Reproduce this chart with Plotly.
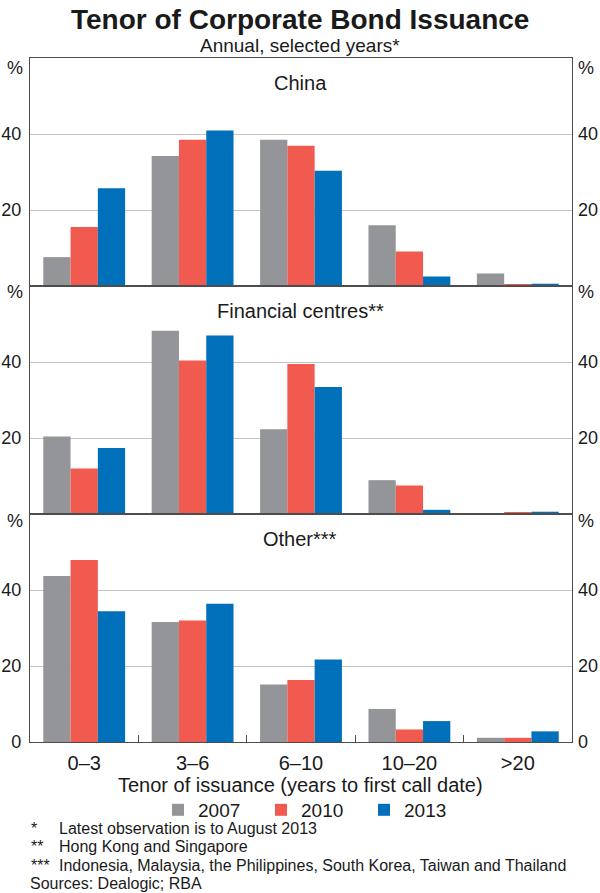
import plotly.graph_objects as go

# ---------------- data ----------------
categories = ["0–3", "3–6", "6–10", "10–20", ">20"]
years = ["2007", "2010", "2013"]
panel_titles = ["China", "Financial centres**", "Other***"]

china_2007 = [7.6, 34.2, 38.5, 16.0, 3.3]
china_2010 = [15.5, 38.5, 36.9, 9.1, 0.3]
china_2013 = [25.7, 40.9, 30.3, 2.5, 0.6]

fin_2007 = [20.4, 48.2, 22.3, 8.9, 0.0]
fin_2010 = [12.0, 40.4, 39.5, 7.5, 0.3]
fin_2013 = [17.4, 47.0, 33.4, 1.1, 0.6]

other_2007 = [43.7, 31.6, 15.1, 8.7, 1.1]
other_2010 = [47.9, 32.0, 16.3, 3.3, 1.1]
other_2013 = [34.4, 36.4, 21.7, 5.5, 2.8]

y_ticks_upper = [20, 40]
y_ticks_lower = [0, 20, 40]

title = "Tenor of Corporate Bond Issuance"
subtitle = "Annual, selected years*"
x_title = "Tenor of issuance (years to first call date)"
footnotes = [
    ("*", "Latest observation is to August 2013"),
    ("**", "Hong Kong and Singapore"),
    ("***", "Indonesia, Malaysia, the Philippines, South Korea, Taiwan and Thailand"),
]
sources = "Sources: Dealogic; RBA"

# ---------------- style ----------------
colors = ["#939598", "#F15A4F", "#0070BA"]
FONT = "Arial, 'Liberation Sans', sans-serif"
TXT = "#1a1a1a"
LINE = "#4d4d4d"
GRID = "#c4c4c4"
FS = 20
LFS = 19
YFS = 18

W, H = 600, 893
ML, MR, MT, MB = 30, 28, 57.5, 151
PW, PH = W - ML - MR, H - MT - MB


def px2x(px):
    return (px - ML) / PW


def px2y(py):
    return (H - MB - py) / PH


panels = [
    [china_2007, china_2010, china_2013],
    [fin_2007, fin_2010, fin_2013],
    [other_2007, other_2010, other_2013],
]

fig = go.Figure()
for p, series in enumerate(panels):
    xa = "x" if p == 0 else f"x{p+1}"
    ya = "y" if p == 0 else f"y{p+1}"
    for s, vals in enumerate(series):
        fig.add_trace(go.Bar(
            x=categories, y=vals, name=years[s],
            marker=dict(color=colors[s], line=dict(width=0)),
            xaxis=xa, yaxis=ya,
            legendgroup=years[s], showlegend=(p == 0),
        ))
    # invisible companion trace so the right-hand axis is drawn
    fig.add_trace(go.Scatter(
        x=categories, y=series[0], xaxis=xa, yaxis=f"y{p+4}",
        mode="markers", marker=dict(opacity=0), showlegend=False,
        hoverinfo="skip",
    ))

layout = dict(
    template="none",
    width=W, height=H,
    margin=dict(l=ML, r=MR, t=MT, b=MB, pad=0),
    paper_bgcolor="white", plot_bgcolor="white",
    barmode="group", bargap=0.245, bargroupgap=0,
    font=dict(family=FONT, size=FS, color=TXT),
    showlegend=True,
    legend=dict(orientation="h", x=px2x(158), xanchor="left",
                y=px2y(810), yanchor="middle",
                font=dict(size=LFS, color=TXT), traceorder="normal",
                bgcolor="rgba(0,0,0,0)", itemwidth=30,
                entrywidth=58, entrywidthmode="pixels"),
)

for p in range(3):
    dom = [(2 - p) / 3, (3 - p) / 3]
    xkey = "xaxis" if p == 0 else f"xaxis{p+1}"
    ykey = "yaxis" if p == 0 else f"yaxis{p+1}"
    yr = "y" if p == 0 else f"y{p+1}"
    xr = "x" if p == 0 else f"x{p+1}"
    bottom = (p == 2)
    layout[xkey] = dict(
        domain=[0, 1], anchor=yr, type="category",
        categoryorder="array", categoryarray=categories,
        showline=True, mirror=True, linecolor=LINE, linewidth=1.3,
        showgrid=False, zeroline=False, automargin=False,
        showticklabels=bottom,
        ticks="inside" if bottom else "", tickson="boundaries",
        ticklen=7, tickcolor=LINE, tickwidth=1.2,
        tickfont=dict(size=FS, color=TXT),
        ticklabelstandoff=3,
    )
    tv = y_ticks_lower if bottom else y_ticks_upper
    layout[ykey] = dict(
        domain=dom, anchor=xr, range=[0, 60],
        tickvals=tv, ticktext=[str(v) for v in tv],
        showline=True, mirror=True, linecolor=LINE, linewidth=1.3,
        showgrid=True, gridcolor=GRID, gridwidth=1.2,
        zeroline=False, ticks="", automargin=False,
        tickfont=dict(size=YFS, color=TXT), ticklabelstandoff=4,
    )
    rkey = f"yaxis{p+4}"
    layout[rkey] = dict(
        overlaying=yr, side="right", anchor=xr, range=[0, 60],
        tickvals=tv, ticktext=[str(v) for v in tv],
        showline=False, showgrid=False, zeroline=False, ticks="",
        automargin=False,
        tickfont=dict(size=YFS, color=TXT), ticklabelstandoff=5,
    )

fig.update_layout(**layout)

ann = []
ann.append(dict(text=f"<b>{title}</b>", x=px2x(300), y=px2y(19),
                font=dict(size=28, color=TXT)))
ann.append(dict(text=subtitle, x=px2x(300), y=px2y(45),
                font=dict(size=LFS, color=TXT)))
pct_off = [10, 6, 7]
panel_tops = [MT + p * PH / 3 for p in range(3)]
for p in range(3):
    top = panel_tops[p]
    ann.append(dict(text="%", x=px2x(15), y=px2y(top + pct_off[p]),
                    font=dict(size=YFS, color=TXT)))
    ann.append(dict(text="%", x=px2x(586), y=px2y(top + pct_off[p]),
                    font=dict(size=YFS, color=TXT)))
    ann.append(dict(text=panel_titles[p], x=px2x(300), y=px2y(top + 25),
                    font=dict(size=FS, color=TXT)))
ann.append(dict(text=x_title, x=px2x(300), y=px2y(785),
                font=dict(size=FS, color=TXT)))
fy = [829, 847, 866]
FN = 16
for (mark, txt), yy in zip(footnotes, fy):
    ann.append(dict(text=mark, x=px2x(29), y=px2y(yy), xanchor="left",
                    font=dict(size=FN, color=TXT)))
    ann.append(dict(text=txt, x=px2x(57), y=px2y(yy), xanchor="left",
                    font=dict(size=FN, color=TXT)))
ann.append(dict(text=sources, x=px2x(28), y=px2y(884), xanchor="left",
                font=dict(size=FN, color=TXT)))

for a in ann:
    a.setdefault("xanchor", "center")
    a.update(xref="paper", yref="paper", yanchor="middle", showarrow=False)
fig.update_layout(annotations=ann)

fig.write_html("out.html",
               config={"displayModeBar": False},
               post_script="document.body.style.margin='0';"
                           "document.body.style.overflow='hidden';")
